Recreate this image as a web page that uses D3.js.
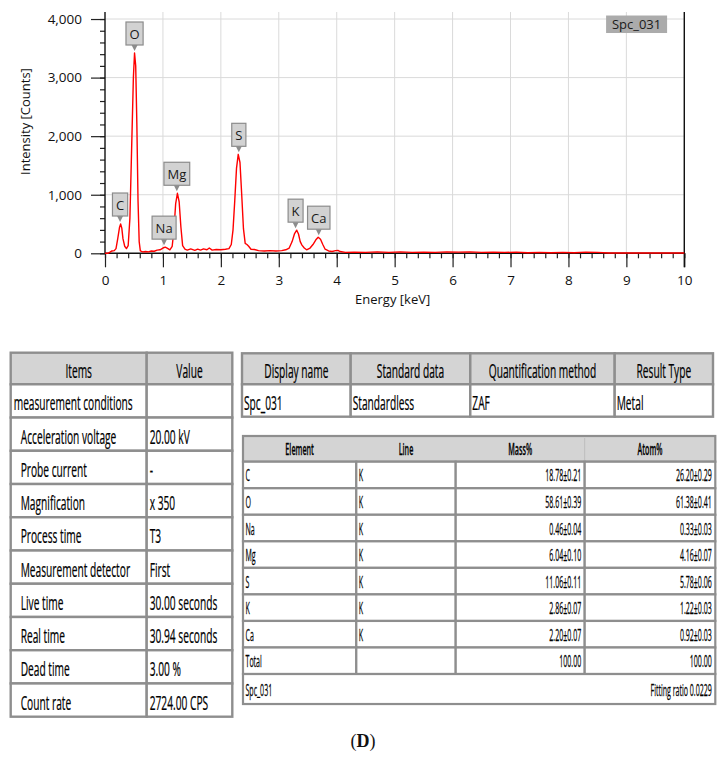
<!DOCTYPE html>
<html>
<head>
<meta charset="utf-8">
<script src="https://cdn.jsdelivr.net/npm/d3@7"></script>
<style>
  html, body { margin: 0; padding: 0; background: #fff; }
  svg { display: block; }
</style>
</head>
<body>
<svg id="chart" width="726" height="764"></svg>
<script>
// spectrum (keV, counts)
const energyKeV = [0, 0.05, 0.08, 0.12, 0.16, 0.19, 0.22, 0.25, 0.27, 0.29, 0.31, 0.34, 0.37, 0.40, 0.43, 0.46, 0.49, 0.51, 0.53, 0.55, 0.57, 0.59, 0.61, 0.65, 0.70, 0.75, 0.80, 0.85, 0.90, 0.95, 1.00, 1.04, 1.08, 1.12, 1.16, 1.19, 1.22, 1.25, 1.28, 1.31, 1.34, 1.38, 1.42, 1.48, 1.55, 1.60, 1.65, 1.70, 1.76, 1.80, 1.85, 1.92, 2.00, 2.08, 2.14, 2.18, 2.21, 2.24, 2.27, 2.30, 2.33, 2.36, 2.39, 2.42, 2.45, 2.48, 2.52, 2.58, 2.65, 2.75, 2.85, 2.95, 3.05, 3.12, 3.18, 3.23, 3.27, 3.31, 3.34, 3.37, 3.40, 3.44, 3.48, 3.54, 3.59, 3.64, 3.68, 3.72, 3.76, 3.80, 3.86, 3.92, 3.98, 4.02, 4.06, 4.15, 4.3, 4.5, 4.7, 4.9, 5.1, 5.3, 5.5, 5.7, 5.9, 6.1, 6.3, 6.5, 6.7, 6.9, 7.1, 7.3, 7.5, 7.7, 7.9, 8.1, 8.3, 8.5, 8.7, 9.0, 9.5, 10];
const intensity = [0, 0, 15, 40, 45, 80, 250, 440, 500, 430, 250, 120, 80, 130, 600, 1800, 3000, 3420, 3200, 2200, 900, 200, 40, 25, 30, 25, 40, 35, 55, 60, 90, 105, 85, 60, 120, 400, 850, 1025, 880, 450, 130, 70, 55, 75, 50, 70, 55, 75, 60, 90, 55, 65, 60, 70, 80, 150, 400, 900, 1450, 1690, 1550, 1000, 420, 170, 150, 120, 70, 65, 45, 40, 45, 40, 45, 60, 90, 200, 330, 395, 330, 200, 140, 90, 60, 90, 150, 230, 275, 240, 150, 70, 40, 30, 45, 50, 30, 15, 20, 15, 25, 15, 25, 15, 20, 15, 25, 20, 25, 15, 20, 15, 20, 10, 15, 10, 15, 10, 20, 15, 5, 5, 5, 5];

const peakNames = ['C', 'O', 'Na', 'Mg', 'S', 'K', 'Ca'];
const peakEnergy = [0.26, 0.51, 1.02, 1.24, 2.31, 3.29, 3.69];
const peakCounts = [500, 3420, 105, 1025, 1690, 395, 275];

const xTicks = [0, 1, 2, 3, 4, 5, 6, 7, 8, 9, 10];
const yTicks = [0, 1000, 2000, 3000, 4000];
const spectrumName = 'Spc_031';

// measurement conditions table
const conditionHeaders = ['Items', 'Value'];
const conditionItems = ['measurement conditions', 'Acceleration voltage', 'Probe current', 'Magnification', 'Process time', 'Measurement detector', 'Live time', 'Real time', 'Dead time', 'Count rate'];
const conditionValues = ['', '20.00 kV', '-', 'x 350', 'T3', 'First', '30.00 seconds', '30.94 seconds', '3.00 %', '2724.00 CPS'];

// summary table
const summaryHeaders = ['Display name', 'Standard data', 'Quantification method', 'Result Type'];
const summaryValues = ['Spc_031', 'Standardless', 'ZAF', 'Metal'];

// quantification table
const elementHeaders = ['Element', 'Line', 'Mass%', 'Atom%'];
const elements = ['C', 'O', 'Na', 'Mg', 'S', 'K', 'Ca', 'Total'];
const lines = ['K', 'K', 'K', 'K', 'K', 'K', 'K', ''];
const massPct = ['18.78±0.21', '58.61±0.39', '0.46±0.04', '6.04±0.10', '11.06±0.11', '2.86±0.07', '2.20±0.07', '100.00'];
const atomPct = ['26.20±0.29', '61.38±0.41', '0.33±0.03', '4.16±0.07', '5.78±0.06', '1.22±0.03', '0.92±0.03', '100.00'];
const fittingRatio = 'Fitting ratio 0.0229';

const svg = d3.select('#chart');
const font = '"Open Sans", "Noto Sans", sans-serif';

// ---------- spectrum ----------
const x = d3.scaleLinear().domain([0, 10]).range([105, 684.3]);
const y = d3.scaleLinear().domain([0, 4120]).range([253.3, 12]);

const plot = svg.append('g');

plot.append('g')
    .selectAll('line.vg')
    .data(xTicks.slice(1))
    .join('line')
    .attr('x1', d => x(d)).attr('x2', d => x(d))
    .attr('y1', y(4120)).attr('y2', y(0))
    .attr('stroke', '#dadada').attr('stroke-width', 1);

plot.append('g')
    .selectAll('line.hg')
    .data(yTicks.slice(1))
    .join('line')
    .attr('x1', x(0)).attr('x2', x(10))
    .attr('y1', d => y(d)).attr('y2', d => y(d))
    .attr('stroke', '#dadada').attr('stroke-width', 1);

// minor ticks
const xAxisMinor = d3.axisBottom(x).tickValues(d3.range(0, 10.01, 0.2)).tickSize(5).tickFormat('');
const yAxisMinor = d3.axisLeft(y).tickValues(d3.range(0, 4001, 200)).tickSize(5).tickFormat('');
plot.append('g').attr('transform', `translate(0,${y(0)})`).call(xAxisMinor);
plot.append('g').attr('transform', `translate(${x(0)},0)`).call(yAxisMinor);

const xAxis = plot.append('g')
    .attr('transform', `translate(0,${y(0)})`)
    .call(d3.axisBottom(x).tickValues(xTicks).tickSize(14).tickPadding(8));
const yAxis = plot.append('g')
    .attr('transform', `translate(${x(0)},0)`)
    .call(d3.axisLeft(y).tickValues(yTicks).tickSize(14).tickPadding(9).tickFormat(d3.format(',')));

plot.selectAll('.domain').remove();
plot.selectAll('.tick line').attr('stroke', '#222').attr('stroke-width', 1.2);
[xAxis, yAxis].forEach(a => a.selectAll('text')
    .attr('font-family', font).attr('font-size', 13.5).attr('fill', '#111'));

// axis lines (left, bottom, right)
plot.append('line').attr('x1', x(0)).attr('x2', x(0)).attr('y1', y(4120)).attr('y2', y(0)).attr('stroke', '#111').attr('stroke-width', 1.4);
plot.append('line').attr('x1', x(10)).attr('x2', x(10)).attr('y1', y(4120)).attr('y2', y(0) + 14).attr('stroke', '#111').attr('stroke-width', 1.4);
plot.append('line').attr('x1', x(0)).attr('x2', x(10)).attr('y1', y(0)).attr('y2', y(0)).attr('stroke', '#111').attr('stroke-width', 1.4);

plot.append('path')
    .datum(energyKeV.map((e, i) => [e, intensity[i]]))
    .attr('fill', 'none')
    .attr('stroke', '#ff0000')
    .attr('stroke-width', 1.4)
    .attr('stroke-linejoin', 'round')
    .attr('d', d3.line().x(d => x(d[0])).y(d => y(d[1])));

// peak labels
const labels = plot.append('g').selectAll('g')
    .data(peakNames.map((n, i) => ({ name: n, e: peakEnergy[i], c: peakCounts[i] })))
    .join('g')
    .attr('transform', d => `translate(${x(d.e)},${y(d.c) - 2})`);

labels.append('path')
    .attr('d', 'M-3,-6 L3,-6 L0,0 Z')
    .attr('fill', '#8c8c8c');
labels.each(function(d) {
    const g = d3.select(this);
    const t = g.append('text')
        .attr('y', -12)
        .attr('text-anchor', 'middle')
        .attr('font-family', font).attr('font-size', 13).attr('fill', '#1a1a1a')
        .text(d.name);
    const w = t.node().getComputedTextLength() + 7;
    g.insert('rect', 'text')
        .attr('x', -w / 2).attr('y', -29).attr('width', w).attr('height', 23)
        .attr('fill', '#d2d2d2').attr('stroke', '#8c8c8c').attr('stroke-width', 1.2);
});

// spectrum name badge
const badge = plot.append('g').attr('transform', `translate(${x(8.65)},${y(4060)})`);
badge.append('rect').attr('x', 0).attr('y', 0).attr('width', 61).attr('height', 17.5).attr('fill', '#ababab');
badge.append('text').attr('x', 30.5).attr('y', 13.5).attr('text-anchor', 'middle')
    .attr('font-family', font).attr('font-size', 13).attr('fill', '#1a1a1a').text(spectrumName);

// axis titles
plot.append('text')
    .attr('transform', `translate(30,${y(2250)}) rotate(-90)`)
    .attr('text-anchor', 'middle')
    .attr('font-family', font).attr('font-size', 13).attr('fill', '#111')
    .text('Intensity [Counts]');
plot.append('text')
    .attr('x', x(5) - 2).attr('y', 304)
    .attr('text-anchor', 'middle')
    .attr('font-family', font).attr('font-size', 13).attr('fill', '#111')
    .text('Energy [keV]');

// ---------- tables ----------
const border = '#8e8e8e';
const headFill = '#d4d4d4';

function cellText(g, str, tx, ty, size, sx, anchor, weight) {
    g.append('text')
        .attr('transform', `translate(${tx},${ty}) scale(${sx},1)`)
        .attr('text-anchor', anchor)
        .attr('font-family', font).attr('font-size', size)
        .attr('font-weight', weight || 400)
        .attr('fill', '#000')
        .attr('stroke', '#000').attr('stroke-width', 0.25)
        .text(str);
}

// left table: measurement conditions
const lt = { cols: [10.7, 146.7, 232.3], top: 352.7, headH: 31.6, rowH: 33.24 };
const left = svg.append('g');
const ltRows = [{ cells: conditionHeaders, head: true }].concat(conditionItems.map((it, i) => ({ cells: [it, conditionValues[i]], head: false, idx: i })));
ltRows.forEach((r, ri) => {
    const y0 = ri === 0 ? lt.top : lt.top + lt.headH + (ri - 1) * lt.rowH;
    const h = ri === 0 ? lt.headH : lt.rowH;
    r.cells.forEach((c, ci) => {
        left.append('rect')
            .attr('x', lt.cols[ci]).attr('y', y0)
            .attr('width', lt.cols[ci + 1] - lt.cols[ci]).attr('height', h)
            .attr('fill', r.head ? headFill : '#fff')
            .attr('stroke', border).attr('stroke-width', 2.4);
        const ty = y0 + h / 2 + 9.5;
        if (r.head) {
            cellText(left, c, (lt.cols[ci] + lt.cols[ci + 1]) / 2, ty, 20, 0.51, 'middle');
        } else {
            const indent = ci === 0 && r.idx > 0 ? 10 : 3;
            cellText(left, c, lt.cols[ci] + indent, ty, 20, 0.51, 'start');
        }
    });
});

// right top table: summary
const st = { cols: [242, 350.7, 470.3, 614.7, 713], top: 353.3, headH: 31, rowH: 32.4 };
const sumT = svg.append('g');
[summaryHeaders, summaryValues].forEach((row, ri) => {
    const y0 = ri === 0 ? st.top : st.top + st.headH;
    const h = ri === 0 ? st.headH : st.rowH;
    row.forEach((c, ci) => {
        sumT.append('rect')
            .attr('x', st.cols[ci]).attr('y', y0)
            .attr('width', st.cols[ci + 1] - st.cols[ci]).attr('height', h)
            .attr('fill', ri === 0 ? headFill : '#fff')
            .attr('stroke', border).attr('stroke-width', 2.4);
        const ty = y0 + h / 2 + 9.5;
        if (ri === 0) cellText(sumT, c, (st.cols[ci] + st.cols[ci + 1]) / 2, ty, 20, 0.51, 'middle');
        else cellText(sumT, c, st.cols[ci] + 2, ty, 20, 0.51, 'start');
    });
});

// element table
const et = { cols: [243, 356.3, 455.7, 584.7, 715.3], top: 436, headH: 25.7, rowH: 26.54, footH: 30 };
const elT = svg.append('g');
elT.append('rect')
    .attr('x', et.cols[0]).attr('y', et.top)
    .attr('width', et.cols[4] - et.cols[0]).attr('height', et.headH)
    .attr('fill', headFill).attr('stroke', border).attr('stroke-width', 2.2);
elT.append('line')
    .attr('x1', et.cols[3]).attr('x2', et.cols[3])
    .attr('y1', et.top + 2).attr('y2', et.top + et.headH)
    .attr('stroke', '#bdbdbd').attr('stroke-width', 1);
elementHeaders.forEach((hd, ci) => {
    cellText(elT, hd, (et.cols[ci] + et.cols[ci + 1]) / 2, et.top + et.headH / 2 + 6, 16, 0.45, 'middle', 600);
});
elements.forEach((el, ri) => {
    const y0 = et.top + et.headH + ri * et.rowH;
    const vals = [el, lines[ri], massPct[ri], atomPct[ri]];
    vals.forEach((v, ci) => {
        elT.append('rect')
            .attr('x', et.cols[ci]).attr('y', y0)
            .attr('width', et.cols[ci + 1] - et.cols[ci]).attr('height', et.rowH)
            .attr('fill', '#fff').attr('stroke', border).attr('stroke-width', 2.2);
        const ty = y0 + et.rowH / 2 + 6.5;
        if (ci < 2) cellText(elT, v, et.cols[ci] + 2.5, ty, 16, 0.44, 'start');
        else cellText(elT, v, et.cols[ci + 1] - 3.5, ty, 16, 0.44, 'end');
    });
});
const fy = et.top + et.headH + elements.length * et.rowH;
elT.append('rect')
    .attr('x', et.cols[0]).attr('y', fy)
    .attr('width', et.cols[4] - et.cols[0]).attr('height', et.footH)
    .attr('fill', '#fff').attr('stroke', border).attr('stroke-width', 2.2);
cellText(elT, spectrumName, et.cols[0] + 2.5, fy + et.footH / 2 + 6.5, 16, 0.44, 'start');
cellText(elT, fittingRatio, et.cols[4] - 3.5, fy + et.footH / 2 + 6.5, 16, 0.44, 'end');

// caption
const cap = svg.append('text')
    .attr('x', 363).attr('y', 747)
    .attr('text-anchor', 'middle')
    .attr('font-family', '"Liberation Serif", "DejaVu Serif", serif')
    .attr('font-size', 18).attr('fill', '#111');
cap.append('tspan').text('(');
cap.append('tspan').attr('font-weight', 700).text('D');
cap.append('tspan').text(')');
</script>
</body>
</html>
